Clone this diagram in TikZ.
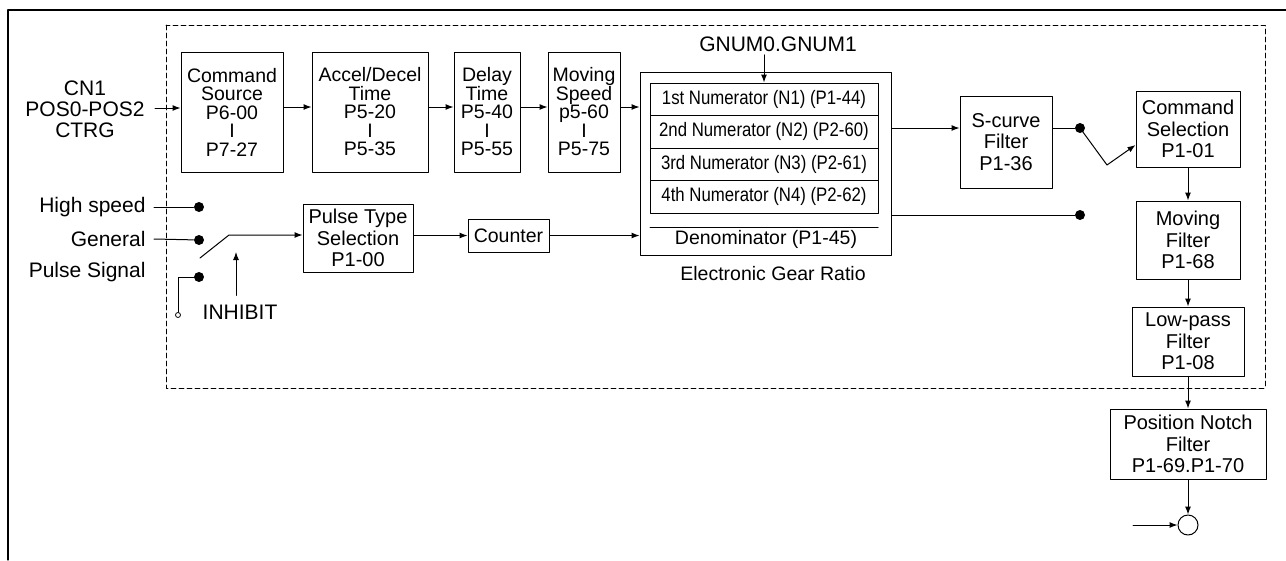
\documentclass[tikz,border=0pt]{standalone}
\usepackage{fontspec}
\setmainfont{Liberation Sans}
\newfontfamily\narrowsans[FakeStretch=0.86]{Liberation Sans}
\usetikzlibrary{arrows.meta}

\begin{document}
\begin{tikzpicture}[x=1pt, y=-1pt, line cap=round, line join=round, line width=1pt,
		>={Latex[length=8pt,width=6pt]},
		blk/.style={draw, inner sep=0pt, align=center, font=\fontsize{19.5}{18.5}\selectfont},
		blkthree/.style={blk, font=\fontsize{20}{21.5}\selectfont},
		numrow/.style={draw, inner sep=0pt, minimum width=228pt, minimum height=32.5pt, font=\narrowsans\fontsize{19.5}{19.5}\selectfont},
		lbl/.style={inner sep=0pt, align=center, font=\fontsize{21}{21}\selectfont},
		dot/.style={circle, fill, inner sep=0pt, minimum size=10pt}]
	% Page size
	\useasboundingbox (0,0) rectangle (1286,560);
	
	% Outer frame and dashed drive boundary
	\draw[line width=1.2pt] (8,560) -- (8,10) -- (1286,10);
	\draw[line width=0.8pt, dash pattern=on 5pt off 3pt] (166,25) rectangle (1265,388);
	
	% Command path blocks
	\node[blk, minimum width=102pt, minimum height=120pt] (src) at (232,112) {Command\\Source\\P6-00\\I\\P7-27};
	\node[blk, minimum width=116pt, minimum height=120pt] (acc) at (370,112) {Accel/Decel\\Time\\P5-20\\I\\P5-35};
	\node[blk, minimum width=66pt, minimum height=120pt] (dly) at (487,112) {Delay\\Time\\P5-40\\I\\P5-55};
	\node[blk, minimum width=72pt, minimum height=120pt] (spd) at (584,112) {Moving\\Speed\\p5-60\\I\\P5-75};
	
	% Electronic gear ratio
	\node[draw, minimum width=251pt, minimum height=183pt] (gear) at (765.5,163.5) {};
	\node[numrow] (n1) at (764,99.25) {1st Numerator (N1) (P1-44)};
	\node[numrow] (n2) at (764,131.75) {2nd Numerator (N2) (P2-60)};
	\node[numrow] (n3) at (764,164.25) {3rd Numerator (N3) (P2-61)};
	\node[numrow] (n4) at (764,196.75) {4th Numerator (N4) (P2-62)};
	\draw (650,227) -- (878,227);
	\node[lbl, font=\fontsize{19.5}{19.5}\selectfont] (den) at (766,239) {Denominator (P1-45)};
	\node[lbl, font=\fontsize{19.5}{19.5}\selectfont] (ratio) at (773,274) {Electronic Gear Ratio};
	\node[lbl] (gnum) at (778,44) {GNUM0.GNUM1};
	
	% Filter chain
	\node[blkthree, minimum width=92pt, minimum height=92pt] (scv) at (1006,142) {S-curve\\Filter\\P1-36};
	\node[blkthree, minimum width=104pt, minimum height=76pt] (sel) at (1188,129) {Command\\Selection\\P1-01};
	\node[blkthree, minimum width=104pt, minimum height=78pt] (mov) at (1188,240) {Moving\\Filter\\P1-68};
	\node[blkthree, minimum width=112pt, minimum height=69pt] (low) at (1188,341.5) {Low-pass\\Filter\\P1-08};
	\node[blkthree, minimum width=156pt, minimum height=70pt] (notch) at (1188,444) {Position Notch\\Filter\\P1-69.P1-70};
	\node[draw, circle, inner sep=0pt, minimum size=20pt] (sum) at (1188,525) {};
	
	% Pulse input blocks
	\node[blkthree, minimum width=110pt, minimum height=68pt] (pts) at (358,238) {Pulse Type\\Selection\\P1-00};
	\node[blk, minimum width=81pt, minimum height=33pt] (cnt) at (508.5,235.5) {Counter};
	
	% Input labels
	\node[lbl] (cn1) at (85,109) {CN1\\POS0-POS2\\CTRG};
	\node[lbl, anchor=east] (hs) at (146,207) {High speed};
	\node[lbl, anchor=east] (gen) at (146,239) {General};
	\node[lbl, anchor=east] (ps) at (146,272) {Pulse Signal};
	\node[lbl] (inh) at (240,312) {INHIBIT};
	
	% Switch contacts
	\node[dot] (hsd) at (199,207) {};
	\node[dot] (gend) at (199,240) {};
	\node[dot] (psd) at (199,277) {};
	\node[draw, circle, inner sep=0pt, minimum size=5pt, line width=0.8pt] (gnd) at (178,315) {};
	\node[dot] (dot1) at (1080,128) {};
	\node[dot] (dot2) at (1080,215) {};
	\coordinate (cn1in) at (155,108);
	\coordinate (swa) at (200,258);
	\coordinate (swb) at (229,235);
	\coordinate (inhtip) at (236,252);
	\coordinate (swk) at (1107,165);
	\coordinate (sumin) at (1133,525);
	
	% Command path connectors
	\draw[->] (cn1in) -- (cn1in -| src.west);
	\draw[->] ([yshift=5pt]src.east) -- ([yshift=5pt]acc.west);
	\draw[->] ([yshift=5pt]acc.east) -- ([yshift=5pt]dly.west);
	\draw[->] ([yshift=5pt]dly.east) -- ([yshift=5pt]spd.west);
	\draw[->] ([yshift=5pt]spd.east) -- ([yshift=5pt]spd.east -| gear.west);
	\draw[->] ([yshift=-3pt]gnum.south -| n1.north) -- (n1.north);
	
	% Pulse path connectors
	\draw ([xshift=8pt]hs.east) -- (hsd);
	\draw ([xshift=8pt]gen.east) -- (gend);
	\draw (psd.center) -| (gnd);
	\draw[->] (swa) -- (swb) -- (swb -| pts.west);
	\draw[->] ([shift={(-4pt,9pt)}]inh.north) -- (inhtip);
	\draw[->] (pts.east |- cnt) -- (cnt.west);
	\draw[->] (cnt.east) -- (cnt.east -| gear.west);
	
	% Gear output and command selection
	\draw[->] ([yshift=35.5pt]gear.east) -- ([yshift=35.5pt]gear.east -| scv.west);
	\draw (dot1 -| scv.east) -- (dot1);
	\draw (dot2 -| gear.east) -- (dot2);
	\draw[->] (dot1.center) -- (swk) -- ([yshift=-16pt]sel.west);
	
	% Filter chain connectors
	\draw[->] (sel) -- (mov);
	\draw[->] (mov) -- (low);
	\draw[->] (low) -- (notch);
	\draw[->] (notch) -- (sum);
	\draw[->] (sumin) -- (sum);
\end{tikzpicture}
\end{document}
